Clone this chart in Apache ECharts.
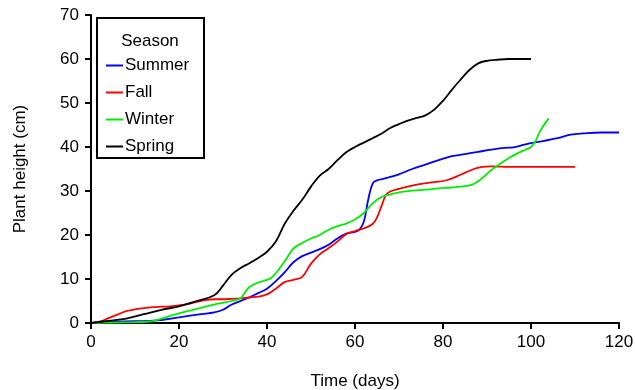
<!DOCTYPE html>
<html>
<head>
<meta charset="utf-8">
<script src="https://cdn.jsdelivr.net/npm/echarts@6/dist/echarts.min.js"></script>
<style>
  html, body { margin: 0; padding: 0; background: #fff; }
  #main { width: 635px; height: 390px; }
</style>
</head>
<body>
<div id="main"></div>
<script>
// [day, height cm]
const summer = [[0,0],[5,0.3],[10,0.4],[15,0.6],[20,1.3],[25,2.0],[28,2.4],[30,3.0],[32,4.2],[35,5.4],[38,6.8],[40,7.8],[42,9.5],[44,11.5],[46,13.8],[48,15.2],[50,16.0],[52,16.8],[54,17.8],[56,19.2],[58,20.3],[60,20.7],[61,21.2],[62,23],[63,28],[64,31.7],[65,32.4],[67,32.9],[70,33.8],[73,35.0],[76,36],[79,37],[82,37.9],[85,38.4],[88,38.9],[91,39.4],[94,39.8],[96,39.9],[98,40.4],[100,40.9],[103,41.4],[106,42.0],[109,42.8],[112,43.1],[116,43.3],[120,43.3]]
const fall = [[0,0],[2,0.3],[4,1.1],[6,1.9],[8,2.7],[10,3.1],[12,3.4],[14,3.6],[16,3.7],[18,3.8],[20,4.0],[22,4.3],[24,4.8],[26,5.2],[28,5.4],[30,5.4],[32,5.5],[34,5.6],[36,5.8],[38,6.0],[40,6.5],[42,7.8],[44,9.3],[46,9.8],[48,10.5],[50,13.5],[52,15.6],[54,17.0],[56,18.5],[58,20.2],[60,20.9],[62,21.5],[64,22.5],[65,24],[66,26.5],[67,29],[68,29.9],[70,30.5],[72,31],[75,31.6],[78,32],[81,32.5],[84,33.7],[87,35],[89,35.5],[91,35.6],[95,35.5],[100,35.5],[105,35.5],[110,35.5]]
const winter = [[0,0],[5,0.1],[10,0.2],[14,0.4],[16,1.0],[18,1.6],[20,2.2],[22,2.7],[24,3.2],[26,3.7],[28,4.2],[30,4.6],[32,5.0],[34,5.6],[35,7],[36,8.2],[38,9.2],[40,9.8],[41,10.3],[42,11.3],[44,14],[46,16.9],[48,18.2],[50,19.2],[52,20.0],[54,21.2],[56,22.0],[58,22.6],[60,23.5],[62,25],[64,27.2],[66,28.6],[68,29.2],[70,29.7],[73,30.1],[76,30.3],[79,30.6],[82,30.8],[85,31.1],[87,31.6],[89,33],[91,34.8],[93,36.2],[95,37.5],[97,38.6],[99,39.5],[100,40],[101,41.3],[102,43.5],[104,46.5]]
const spring = [[0,0],[4,0.5],[8,1.0],[12,2.0],[16,3.0],[20,3.8],[24,5.0],[28,6.3],[30,8.5],[32,11],[34,12.5],[36,13.6],[38,14.8],[40,16.2],[42,18.5],[44,22.5],[46,25.5],[48,28],[50,31],[52,33.5],[54,35],[56,37],[58,38.8],[60,40],[62,41],[64,42],[66,43],[68,44.3],[70,45.2],[72,46],[74,46.6],[76,47.2],[78,48.5],[80,50.5],[82,53],[84,55.3],[86,57.5],[88,59],[90,59.6],[92,59.8],[95,60],[100,60]]

const seasonNames = ["Summer", "Fall", "Winter", "Spring"]
const seasonColors = ["#0000ff", "#ff0000", "#00ee00", "#000000"]
const seasonData = [summer, fall, winter, spring]

const font = "Liberation Sans, Arial, sans-serif"

let myChart = echarts.init(document.getElementById("main"))
myChart.setOption({
  animation: false,
  textStyle: { fontFamily: font },
  grid: { left: 91, right: 16, top: 15, bottom: 67, outerBoundsMode: "none", containLabel: false },
  xAxis: {
    type: "value",
    min: 0,
    max: 120,
    interval: 20,
    name: "Time (days)",
    nameLocation: "middle",
    nameGap: 50,
    nameTextStyle: { fontSize: 17, color: "#000", fontFamily: font },
    axisLine: { show: true, lineStyle: { color: "#000", width: 2 } },
    axisTick: { show: true, length: 6, lineStyle: { color: "#000", width: 2 } },
    axisLabel: { fontSize: 17, color: "#000", margin: 11, fontFamily: font },
    splitLine: { show: false },
  },
  yAxis: {
    type: "value",
    min: 0,
    max: 70,
    interval: 10,
    name: "Plant height (cm)",
    nameLocation: "middle",
    nameGap: 62,
    nameTextStyle: { fontSize: 17, color: "#000", fontFamily: font },
    axisLine: { show: true, lineStyle: { color: "#000", width: 2 } },
    axisTick: { show: true, length: 6, lineStyle: { color: "#000", width: 2 } },
    axisLabel: { fontSize: 17, color: "#000", margin: 12, fontFamily: font },
    splitLine: { show: false },
  },
  legend: {
    orient: "vertical",
    left: 101,
    top: 52,
    icon: "rect",
    itemWidth: 17,
    itemHeight: 2,
    itemGap: 10,
    textStyle: { fontSize: 17, color: "#000", padding: [0, 0, 0, -3], fontFamily: font },
    data: seasonNames,
  },
  graphic: [
    {
      type: "rect",
      shape: { x: 97, y: 18, width: 107, height: 140 },
      style: { fill: "#fff", stroke: "#000", lineWidth: 2 },
      z: 0,
    },
    {
      type: "text",
      x: 150,
      y: 41,
      style: { text: "Season", fontSize: 17, fill: "#000", align: "center", verticalAlign: "middle", fontFamily: font },
      z: 1,
    },
  ],
  series: seasonNames.map((name, i) => ({
    name: name,
    type: "line",
    data: seasonData[i],
    smooth: 0.4,
    showSymbol: false,
    lineStyle: { color: seasonColors[i], width: 1.8 },
    itemStyle: { color: seasonColors[i] },
  })),
})

window.addEventListener("resize", () => {
  myChart.resize()
})
</script>
</body>
</html>
